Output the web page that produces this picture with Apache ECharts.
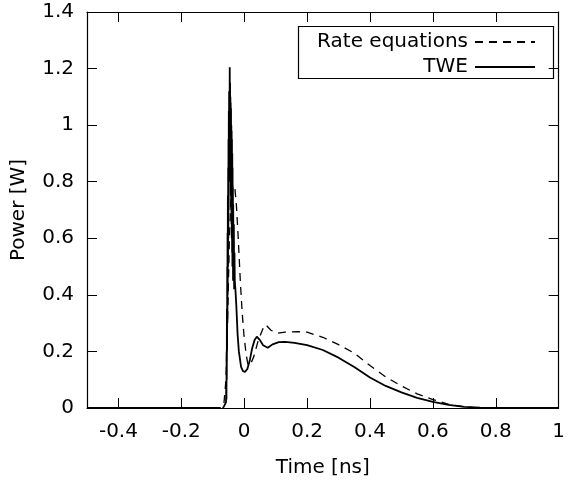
<!DOCTYPE html>
<html><head><meta charset="utf-8">
<script src="https://cdn.jsdelivr.net/npm/echarts@6/dist/echarts.min.js"></script>
<style>html,body{margin:0;padding:0;background:#fff}#c{width:568px;height:485px}</style>
</head><body><div id="c"></div>
<script>
const xTicks = [-0.4, -0.2, 0, 0.2, 0.4, 0.6, 0.8, 1];
const yTicks = [0, 0.2, 0.4, 0.6, 0.8, 1, 1.2, 1.4];

const rateX = [-0.5, -0.075, -0.065, -0.058, -0.052, -0.047, -0.042, -0.036, -0.03, -0.025, -0.019, -0.012, -0.006, -0.001, 0.006, 0.0125, 0.02, 0.03, 0.045, 0.062, 0.068, 0.085, 0.105, 0.13, 0.17, 0.2, 0.25, 0.3, 0.35, 0.4, 0.45, 0.5, 0.55, 0.6, 0.65, 0.7, 0.75, 1.0];
const rateY = [0, 0, 0.01, 0.1, 0.35, 0.6, 0.75, 0.79, 0.78, 0.72, 0.6, 0.44, 0.33, 0.26, 0.19, 0.15, 0.155, 0.18, 0.24, 0.287, 0.295, 0.275, 0.264, 0.268, 0.27, 0.268, 0.25, 0.224, 0.194, 0.15, 0.11, 0.078, 0.05, 0.03, 0.013, 0.004, 0, 0];

const tweX = [-0.5, -0.08, -0.07, -0.065, -0.06, -0.058, -0.057, -0.0565, -0.056, -0.0555, -0.055, -0.0545, -0.054, -0.0535, -0.053, -0.0525, -0.052, -0.0515, -0.051, -0.0505, -0.05, -0.0495, -0.049, -0.0485, -0.048, -0.047, -0.046, -0.0455, -0.045, -0.0445, -0.044, -0.0435, -0.043, -0.0425, -0.042, -0.0415, -0.041, -0.0405, -0.04, -0.0395, -0.039, -0.0385, -0.038, -0.0375, -0.037, -0.0365, -0.036, -0.0355, -0.035, -0.034, -0.033, -0.032, -0.031, -0.03, -0.028, -0.025, -0.021, -0.017, -0.01, -0.004, 0.003, 0.01, 0.018, 0.025, 0.033, 0.04, 0.05, 0.06, 0.075, 0.09, 0.11, 0.13, 0.16, 0.2, 0.25, 0.3, 0.35, 0.4, 0.45, 0.5, 0.55, 0.6, 0.65, 0.7, 0.75, 0.8, 1.0];
const tweY = [0, 0, -0.005, 0.005, 0.01, 0.02, 0.08, 0.03, 0.2, 0.1, 0.35, 0.2, 0.5, 0.3, 0.62, 0.4, 0.75, 0.5, 0.85, 0.6, 0.95, 0.7, 1.05, 0.8, 1.12, 0.85, 1.205, 0.9, 1.15, 0.85, 1.1, 0.8, 1.08, 0.75, 1.06, 0.7, 1.0, 0.65, 0.98, 0.6, 0.95, 0.55, 0.9, 0.5, 0.85, 0.5, 0.78, 0.45, 0.72, 0.45, 0.65, 0.42, 0.55, 0.45, 0.42, 0.36, 0.26, 0.2, 0.145, 0.13, 0.128, 0.138, 0.17, 0.21, 0.24, 0.252, 0.24, 0.222, 0.213, 0.225, 0.233, 0.234, 0.23, 0.222, 0.205, 0.178, 0.145, 0.108, 0.078, 0.055, 0.036, 0.022, 0.011, 0.004, 0.001, 0, 0];

const font = 'DejaVu Sans';
const fs = 20;
const zip = (a, b) => a.map((v, i) => [v, b[i]]);
const chart = echarts.init(document.getElementById('c'), null, {renderer: 'canvas'});
const baseX = {
  type: 'value', min: -0.5, max: 1,
  axisLine: {show: true, onZero: false, lineStyle: {color: '#000', width: 1.2}},
  axisTick: {show: true, inside: true, length: 10, customValues: xTicks, lineStyle: {color: '#000'}},
  splitLine: {show: false}
};
const baseY = {
  type: 'value', min: 0, max: 1.4, interval: 0.2,
  axisLine: {show: true, onZero: false, lineStyle: {color: '#000', width: 1.2}},
  axisTick: {show: true, inside: true, length: 10, lineStyle: {color: '#000'}},
  splitLine: {show: false}
};
const legendCommon = {
  orient: 'vertical', align: 'right', itemWidth: 60, itemHeight: 20, selectedMode: false,
  itemStyle: {opacity: 0},
  textStyle: {fontFamily: font, fontSize: fs, color: '#000', padding: [0, 2, 0, 0]}
};
chart.setOption({
  animation: false,
  backgroundColor: '#fff',
  grid: {left: 87, right: 6, top: 12, bottom: 77},
  xAxis: [
    Object.assign({}, baseX, {position: 'bottom', name: 'Time [ns]', nameLocation: 'middle', nameGap: 50,
      nameTextStyle: {fontFamily: font, fontSize: fs, color: '#000'},
      axisLabel: {show: true, customValues: xTicks, margin: 14, fontFamily: font, fontSize: fs, color: '#000'}}),
    Object.assign({}, baseX, {position: 'top', axisLabel: {show: false}})
  ],
  yAxis: [
    Object.assign({}, baseY, {position: 'left', name: 'Power [W]', nameLocation: 'middle', nameGap: 58,
      nameTextStyle: {fontFamily: font, fontSize: fs, color: '#000'},
      axisLabel: {show: true, margin: 13, fontFamily: font, fontSize: fs, color: '#000'}}),
    Object.assign({}, baseY, {position: 'right', axisLabel: {show: false}})
  ],
  legend: [
    Object.assign({}, legendCommon, {data: ['Rate equations'], right: 27, top: 27}),
    Object.assign({}, legendCommon, {data: ['TWE'], right: 27, top: 52})
  ],
  graphic: [{type: 'rect', left: 296, top: 24, shape: {width: 255, height: 52},
    style: {fill: 'none', stroke: '#000', lineWidth: 1.2}, z: 100}],
  series: [
    {name: 'Rate equations', type: 'line', data: zip(rateX, rateY), showSymbol: false, symbol: 'none',
     lineStyle: {color: '#000', width: 1.3, type: [8, 6]}, itemStyle: {color: '#000'}},
    {name: 'TWE', type: 'line', data: zip(tweX, tweY), showSymbol: false, symbol: 'none',
     lineStyle: {color: '#000', width: 1.8}, itemStyle: {color: '#000'}}
  ]
});
</script></body></html>
